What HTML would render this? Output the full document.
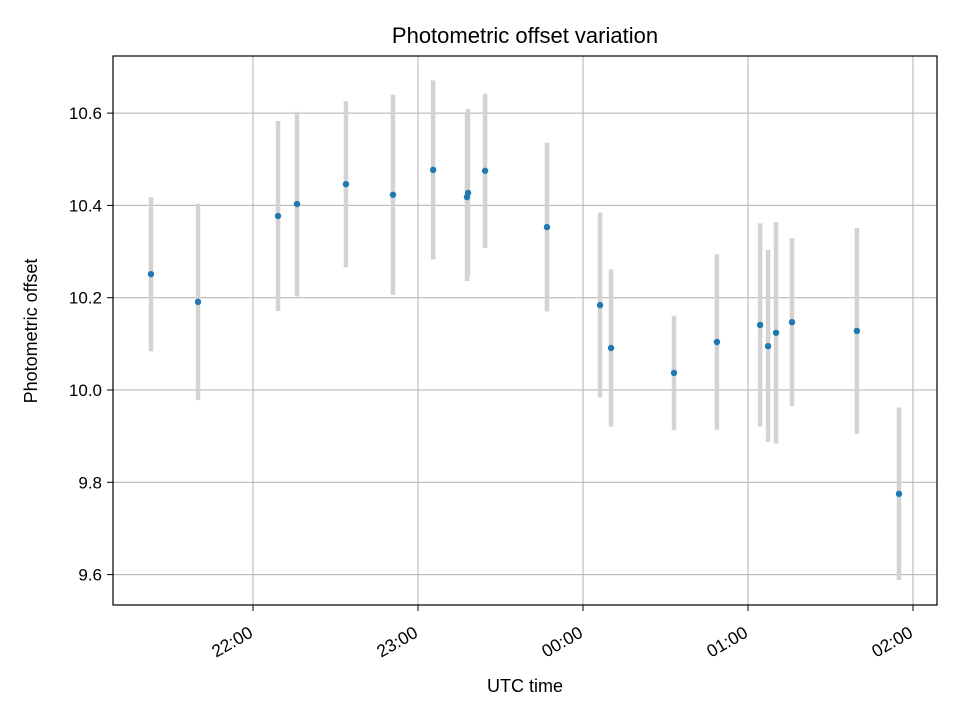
<!DOCTYPE html>
<html><head><meta charset="utf-8"><style>
body{margin:0;background:#fff;font-family:"Liberation Sans",sans-serif}
</style></head><body>
<svg id="chart" width="960" height="720" xmlns="http://www.w3.org/2000/svg" font-family="Liberation Sans, sans-serif">
<rect width="960" height="720" fill="#fff"/>
<text x="525" y="43" text-anchor="middle" font-size="22">Photometric offset variation</text>
<g id="grid"></g><g id="bars"></g><g id="pts"></g><g id="ticks"></g>
<rect x="113" y="56" width="824" height="549" fill="none" stroke="#000" stroke-width="1.2"/>
<text x="525" y="692" text-anchor="middle" font-size="18">UTC time</text>
<text transform="translate(37,331) rotate(-90)" text-anchor="middle" font-size="18">Photometric offset</text>
</svg>
<script>
// minutes relative to 22:00 UTC
const times=[-37.1,-20,9.1,16,33.8,50.9,65.5,77.8,78.2,84.4,106.9,126.2,130.2,153.1,168.7,184.4,187.3,190.2,196,219.6,234.9];
const offsets=[10.251,10.191,10.377,10.403,10.446,10.423,10.477,10.418,10.427,10.475,10.353,10.184,10.091,10.037,10.104,10.141,10.095,10.124,10.147,10.128,9.775];
const errors=[0.167,0.213,0.206,0.2,0.18,0.217,0.194,0.182,0.182,0.167,0.183,0.2,0.17,0.124,0.19,0.22,0.208,0.24,0.182,0.223,0.187];
const yTicks=[9.6,9.8,10.0,10.2,10.4,10.6];
const xTicks=[0,60,120,180,240];
const xTickLabels=["22:00","23:00","00:00","01:00","02:00"];
const NS="http://www.w3.org/2000/svg";
const X=m=>253+m*2.75, Y=v=>390-(v-10)*461.5;
function mk(t,a,p){const e=document.createElementNS(NS,t);for(const k in a)e.setAttribute(k,a[k]);document.getElementById(p).appendChild(e);return e;}
yTicks.forEach(v=>{
 const g=mk('line',{x1:113,x2:937,y1:Y(v),y2:Y(v),stroke:'#b0b0b0','stroke-width':1},'grid');
 
 
 mk('line',{x1:107,x2:113,y1:Y(v),y2:Y(v),stroke:'#000'},'ticks');
 const t=mk('text',{x:102,y:Y(v)+6,'text-anchor':'end','font-size':17},'ticks');t.textContent=v.toFixed(1);
 
 
});
xTicks.forEach((m,i)=>{
 const g=mk('line',{x1:X(m),x2:X(m),y1:56,y2:605,stroke:'#b0b0b0','stroke-width':1},'grid');
 
 
 mk('line',{x1:X(m),x2:X(m),y1:605,y2:611,stroke:'#000'},'ticks');
 const tx=X(m)+1, ty=636;
 const t=mk('text',{x:tx,y:ty,'text-anchor':'end','font-size':17.5,transform:`rotate(-30 ${tx} ${ty})`},'ticks');t.textContent=xTickLabels[i];
 
 
});
times.forEach((m,i)=>{
 const b=mk('line',{x1:X(m),x2:X(m),y1:Y(offsets[i]+errors[i]),y2:Y(offsets[i]-errors[i]),stroke:'#d3d3d3','stroke-width':4.5},'bars');
 
 
 const p=mk('circle',{cx:X(m),cy:Y(offsets[i]),r:3.2,fill:'#1f77b4'},'pts');
 
 
});
</script>
</body></html>
